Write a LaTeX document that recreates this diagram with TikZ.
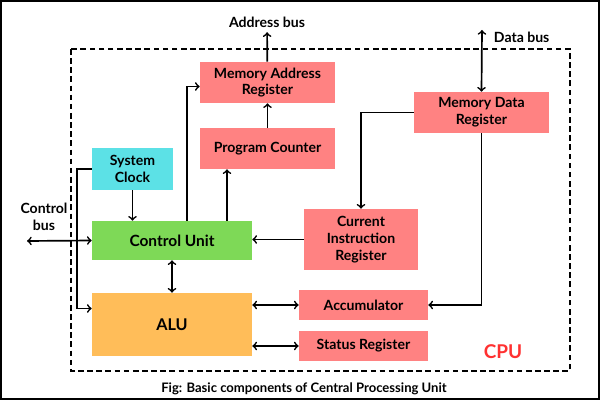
\documentclass[tikz,border=0pt]{standalone}
\usepackage{fontspec}
\setmainfont{Lato}
\usetikzlibrary{calc}
\definecolor{regpink}{HTML}{FF8282}
\definecolor{clkcyan}{HTML}{5CE1E6}
\definecolor{cugreen}{HTML}{7ED957}
\definecolor{aluorange}{HTML}{FFBD59}
\definecolor{cpured}{HTML}{FF3131}

\begin{document}
\begin{tikzpicture}[x=0.025cm,y=-0.025cm,
  box/.style={inner sep=0pt,align=center,font=\fontsize{10}{12}\selectfont\bfseries},
  reg/.style={box,fill=regpink},
  lbl/.style={align=center,font=\fontsize{10}{12}\selectfont\bfseries},
  link/.style={line width=1.2pt,->},
  both/.style={line width=1.2pt,<->}]
  \useasboundingbox (0,0) rectangle (600,400);
  \draw[line width=1.5pt] (1,1) rectangle (599,399);
  % CPU border
  \draw[line width=1.2pt,dash pattern=on 4pt off 2.5pt] (71,49) rectangle (570,371);

  % registers and units
  \node[reg,minimum width=3.375cm,minimum height=1.025cm] (mar) at (267.5,82.5) {Memory Address\\Register};
  \node[reg,minimum width=3.375cm,minimum height=1.025cm] (pc) at (267.5,148.5) {Program Counter};
  \node[reg,minimum width=3.375cm,minimum height=1.025cm] (mdr) at (481.5,112.5) {Memory Data\\Register};
  \node[reg,minimum width=2.85cm,minimum height=1.525cm] (cir) at (361,239.5) {Current\\Instruction\\Register};
  \node[reg,minimum width=3.225cm,minimum height=0.75cm] (acc) at (363.5,305) {Accumulator};
  \node[reg,minimum width=3.225cm,minimum height=0.75cm] (st) at (363.5,346) {Status Register};
  \node[box,fill=clkcyan,minimum width=2.025cm,minimum height=1.05cm] (clk) at (132.5,169) {System\\Clock};
  \node[box,fill=cugreen,minimum width=4cm,minimum height=0.975cm,font=\fontsize{11}{13}\selectfont\bfseries] (cu) at (172,240.5) {Control Unit};
  \node[box,fill=aluorange,minimum width=4cm,minimum height=1.575cm,font=\fontsize{11.5}{13}\selectfont\bfseries] (alu) at (172,324.5) {ALU};

  % labels
  \node[lbl] (addr) at (267,22) {Address bus};
  \node[lbl,anchor=west] (dbus) at (489,37) {Data bus};
  \node[lbl] (cbus) at (44,217) {Control\\bus};
  \node[lbl,text=cpured,font=\fontsize{13.5}{15}\selectfont\bfseries] (cpu) at (503,352) {CPU};
  \node[lbl,font=\fontsize{9.3}{11}\selectfont\bfseries] (cap) at (304,389) {Fig: Basic components of Central Processing Unit};

  \coordinate (dtop) at (482,30);
  \coordinate (cleft) at (27,241);
  \coordinate (cu1) at ($(cu.north)+(15,0)$);
  \coordinate (cu2) at ($(cu.north)+(55,0)$);
  \coordinate (mar1) at ($(mar.west)+(0,4)$);
  \coordinate (alu1) at ($(alu.west)+(0,-16)$);

  % connections
  \draw[link] (mar) -- (addr);
  \draw[link] (pc) -- (mar);
  \draw[both] (dtop) -- (mdr.north);
  \draw[link] (mdr.west) -| (cir.north);
  \draw[link] (mdr.south) |- (acc.east);
  \draw[link] (cir.west) -- (cir.west -| cu.east);
  \draw[link] (cu1) |- (mar1);
  \draw[link] (cu2) -- (cu2 |- pc.south);
  \draw[link] (clk.south) -- (clk.south |- cu.north);
  \draw[link] (clk.west) -- ++(-15,0) |- (alu1);
  \draw[both] (cleft) -- (cu.west);
  \draw[both] (cu) -- (alu);
  \draw[both] (alu.east |- acc.west) -- (acc.west);
  \draw[both] (alu.east |- st.west) -- (st.west);
\end{tikzpicture}
\end{document}
